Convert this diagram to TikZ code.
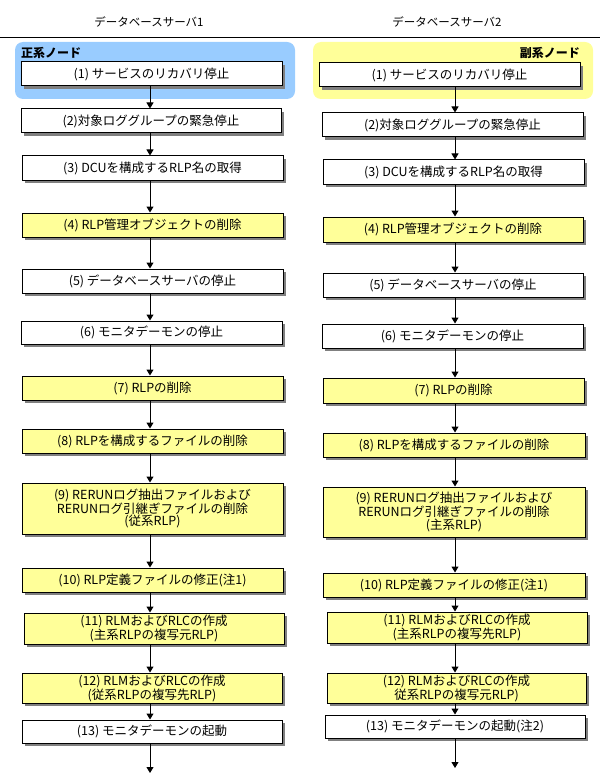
\documentclass[tikz,border=0pt]{standalone}
\usepackage{fontspec}
\setmainfont{Noto Sans CJK JP}
\usetikzlibrary{arrows.meta,shadows}
\definecolor{nodeblue}{HTML}{99CCFF}
\definecolor{nodeyellow}{HTML}{FFFF99}
\definecolor{shadowgray}{HTML}{808080}
\tikzset{
  stepbox/.style={draw=black, line width=1pt, fill=white, inner sep=0pt, align=center,
    font=\fontsize{12.5}{12.5}\selectfont,
    drop shadow={fill=shadowgray, opacity=1, shadow xshift=3pt, shadow yshift=-3pt}},
  ybox/.style={stepbox, fill=nodeyellow},
  flow/.style={line width=1pt, -{Triangle[width=7pt,length=6pt]}},
  header/.style={font=\fontsize{11.5}{12.5}\selectfont},
  grouplabel/.style={font=\fontsize{12}{13}\selectfont\bfseries, inner sep=0pt},
  grp/.style={rounded corners=8pt, draw=none}
}
\begin{document}
\begin{tikzpicture}[x=1pt,y=1pt]
\useasboundingbox (0,0) rectangle (600,-778);
% headers
\node[header] (H1) at (149,-22) {データベースサーバ1};
\node[header] (H2) at (447,-22) {データベースサーバ2};
\draw[line width=1pt] (0,-38) -- (600,-38);
% group backgrounds
\fill[grp, fill=nodeblue] (15,-42) rectangle (295,-99);
\fill[grp, fill=nodeyellow] (313,-42) rectangle (593,-99);
\node[grouplabel, anchor=west] (G1) at (21,-53) {正系ノード};
\node[grouplabel, anchor=east] (G2) at (580,-53) {副系ノード};
% column axes
\coordinate (cL) at (150,0);
\coordinate (cR) at (455,0);
\coordinate (endL) at (150,-773);
\coordinate (endR) at (455,-768);
% left column
\node[stepbox, minimum width=261pt, minimum height=24pt] (L1) at (151.5,-74) {(1)\ サービスのリカバリ停止};
\node[stepbox, minimum width=260pt, minimum height=24pt] (L2) at (151,-121) {(2)対象ロググループの緊急停止};
\node[stepbox, minimum width=261pt, minimum height=24pt] (L3) at (152.5,-168) {(3)\ DCUを構成するRLP名の取得};
\node[ybox, minimum width=261pt, minimum height=24pt] (L4) at (152.5,-225) {(4)\ RLP管理オブジェクトの削除};
\node[stepbox, minimum width=261pt, minimum height=24pt] (L5) at (152.5,-281) {(5)\ データベースサーバの停止};
\node[stepbox, minimum width=261pt, minimum height=23pt] (L6) at (151.5,-332.5) {(6)\ モニタデーモンの停止};
\node[ybox, minimum width=261pt, minimum height=24pt] (L7) at (152.5,-388) {(7)\ RLPの削除};
\node[ybox, minimum width=261pt, minimum height=24pt] (L8) at (152.5,-441) {(8)\ RLPを構成するファイルの削除};
\node[ybox, minimum width=261pt, minimum height=51pt] (L9) at (152.5,-508.5) {(9)\ RERUNログ抽出ファイルおよび\\RERUNログ引継ぎファイルの削除\\(従系RLP)};
\node[ybox, minimum width=261pt, minimum height=24pt] (L10) at (152.5,-580) {(10)\ RLP定義ファイルの修正(注1)};
\node[ybox, minimum width=260pt, minimum height=31pt] (L11) at (154,-628.5) {(11)\ RLMおよびRLCの作成\\(主系RLPの複写元RLP)};
\node[ybox, minimum width=260pt, minimum height=30pt] (L12) at (152,-688) {(12)\ RLMおよびRLCの作成\\(従系RLPの複写先RLP)};
\node[stepbox, minimum width=260pt, minimum height=23pt] (L13) at (152,-731.5) {(13)\ モニタデーモンの起動};
% right column
\node[stepbox, minimum width=261pt, minimum height=24pt] (R1) at (449.5,-75) {(1)\ サービスのリカバリ停止};
\node[stepbox, minimum width=261pt, minimum height=24pt] (R2) at (452.5,-125) {(2)対象ロググループの緊急停止};
\node[stepbox, minimum width=261pt, minimum height=24pt] (R3) at (453.5,-172) {(3)\ DCUを構成するRLP名の取得};
\node[ybox, minimum width=260pt, minimum height=25pt] (R4) at (453,-229.5) {(4)\ RLP管理オブジェクトの削除};
\node[stepbox, minimum width=260pt, minimum height=24pt] (R5) at (453,-285) {(5)\ データベースサーバの停止};
\node[stepbox, minimum width=261pt, minimum height=24pt] (R6) at (452.5,-336) {(6)\ モニタデーモンの停止};
\node[ybox, minimum width=261pt, minimum height=25pt] (R7) at (453.5,-390.5) {(7)\ RLPの削除};
\node[ybox, minimum width=262pt, minimum height=24pt] (R8) at (454,-445) {(8)\ RLPを構成するファイルの削除};
\node[ybox, minimum width=262pt, minimum height=50pt] (R9) at (454,-512) {(9)\ RERUNログ抽出ファイルおよび\\RERUNログ引継ぎファイルの削除\\(主系RLP)};
\node[ybox, minimum width=262pt, minimum height=24pt] (R10) at (454,-585) {(10)\ RLP定義ファイルの修正(注1)};
\node[ybox, minimum width=260pt, minimum height=31pt] (R11) at (457,-627.5) {(11)\ RLMおよびRLCの作成\\(主系RLPの複写先RLP)};
\node[ybox, minimum width=259pt, minimum height=30pt] (R12) at (456.5,-688) {(12)\ RLMおよびRLCの作成\\従系RLPの複写元RLP)};
\node[stepbox, minimum width=260pt, minimum height=23pt] (R13) at (455,-726.5) {(13)\ モニタデーモンの起動(注2)};
% connectors left
\foreach \a/\b in {L1/L2,L2/L3,L3/L4,L4/L5,L5/L6,L6/L7,L7/L8,L8/L9,L9/L10,L10/L11,L11/L12,L12/L13}
  \draw[flow] (\a.south -| cL) -- (\b.north -| cL);
\draw[flow] (L13.south -| cL) -- (endL);
% connectors right
\foreach \a/\b in {R1/R2,R2/R3,R3/R4,R4/R5,R5/R6,R6/R7,R7/R8,R8/R9,R9/R10,R10/R11,R11/R12,R12/R13}
  \draw[flow] (\a.south -| cR) -- (\b.north -| cR);
\draw[flow] (R13.south -| cR) -- (endR);
\end{tikzpicture}
\end{document}
